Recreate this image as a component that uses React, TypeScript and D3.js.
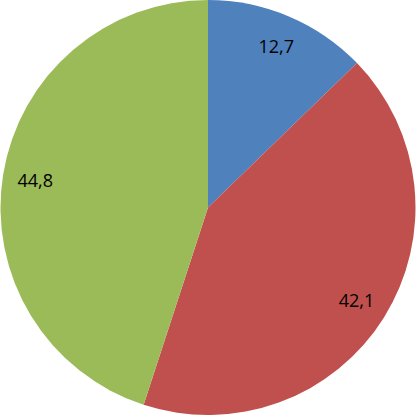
import React from "react";
import * as d3 from "d3";

const categories = ["A", "B", "C"];
const values = [12.7, 42.1, 44.8];
const labels = ["12,7", "42,1", "44,8"];
const colors = ["#4F81BD", "#C0504D", "#9BBB59"];

export default function App() {
  const W = 416, H = 416;
  const cx = 208, cy = 207.5, R = 207.5;
  const pie = d3.pie<number>().sort(null).value((d) => d)(values);
  const arc = d3.arc<d3.PieArcDatum<number>>().innerRadius(0).outerRadius(R);
  const labelArc = d3.arc<d3.PieArcDatum<number>>().innerRadius(175).outerRadius(175);
  return (
    <svg width={W} height={H} style={{ position: "absolute", left: 0, top: 0, background: "#fff" }}>
      <g transform={`translate(${cx},${cy})`}>
        {pie.map((p, i) => (
          <path key={categories[i]} d={arc(p) as string} fill={colors[i]} />
        ))}
        {pie.map((p, i) => {
          const [x, y] = labelArc.centroid(p);
          return (
            <text key={"l" + i} x={x} y={y} textAnchor="middle" dominantBaseline="central"
              fontFamily="'Open Sans', 'Liberation Sans', sans-serif" fontSize={18} fill="#000">
              {labels[i]}
            </text>
          );
        })}
      </g>
    </svg>
  );
}
